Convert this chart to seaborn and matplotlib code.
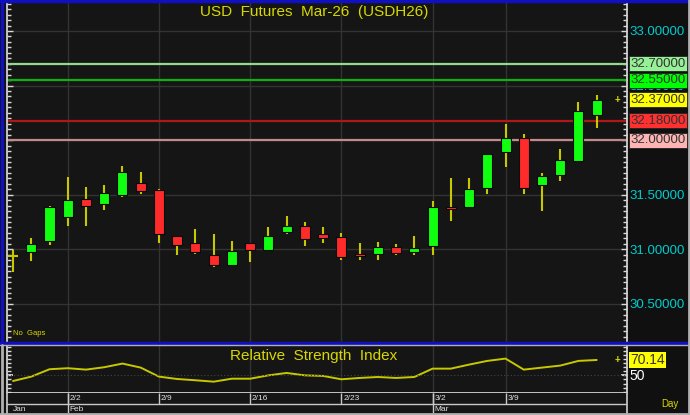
import numpy as np
import pandas as pd
import matplotlib
matplotlib.use("Agg")
import matplotlib.pyplot as plt
from matplotlib.ticker import MultipleLocator, FixedLocator
from matplotlib.lines import Line2D
import seaborn as sns

# daily OHLC, USDH26
opens = [30.94, 30.98, 31.08, 31.30, 31.46, 31.415, 31.50, 31.61, 31.54, 31.12, 31.06,
         30.95, 30.855, 31.055, 30.99, 31.16, 31.21, 31.14, 31.11, 30.96, 30.955, 31.02,
         30.98, 31.03, 31.39, 31.39, 31.56, 31.89, 32.02, 31.59, 31.68, 31.81, 32.235]
highs = [30.99, 31.10, 31.40, 31.66, 31.57, 31.59, 31.76, 31.71, 31.55, 31.12, 31.19,
         31.14, 31.075, 31.055, 31.20, 31.305, 31.25, 31.205, 31.145, 31.055, 31.065, 31.05,
         31.12, 31.44, 31.65, 31.65, 31.87, 32.15, 32.055, 31.695, 31.915, 32.35, 32.415]
lows = [30.79, 30.89, 31.04, 31.21, 31.21, 31.36, 31.48, 31.51, 31.055, 30.95, 30.96,
        30.84, 30.845, 30.885, 30.99, 31.14, 31.03, 31.06, 30.90, 30.90, 30.90, 30.95,
        30.95, 30.95, 31.26, 31.39, 31.51, 31.75, 31.51, 31.355, 31.63, 31.80, 32.11]
closes = [30.94, 31.05, 31.385, 31.455, 31.40, 31.52, 31.705, 31.53, 31.14, 31.04, 30.98,
          30.855, 30.985, 30.99, 31.12, 31.21, 31.095, 31.105, 30.93, 30.94, 31.02, 30.965,
          31.01, 31.39, 31.37, 31.555, 31.87, 32.02, 31.565, 31.67, 31.82, 32.265, 32.37]
rsi = [41.9, 47.8, 57.7, 59.1, 57.2, 60.4, 65.3, 59.9, 47.8, 44.6, 42.9, 41.0, 45.0,
       45.0, 49.5, 52.7, 49.5, 48.7, 44.2, 46.0, 47.3, 46.0, 47.3, 58.5, 58.5, 63.9,
       68.9, 72.0, 57.2, 59.9, 62.6, 68.9, 70.14]

week_labels = ["2/2", "2/9", "2/16", "2/23", "3/2", "3/9"]
week_idx = [3, 8, 13, 18, 23, 27]
month_labels = ["Jan", "Feb", "Mar"]
month_idx = [0, 3, 23]

levels = [32.70, 32.55, 32.18, 32.00]
level_line_colors = ["#8fdc8f", "#10b010", "#b01818", "#c48a8a"]
level_box_colors = ["#96f096", "#00ff00", "#ff3030", "#ffb4b4"]
last_price = 32.37

df = pd.DataFrame({"day": np.arange(len(opens)), "open": opens, "high": highs,
                   "low": lows, "close": closes, "rsi": rsi})

BG = "#151515"
GRID = "#333333"
YEL = "#d8d800"
TICK = "#d8d8d8"

sns.set_theme(style="dark", rc={"axes.facecolor": BG, "figure.facecolor": "#101010",
                                "axes.edgecolor": TICK, "grid.color": GRID})
plt.rcParams["font.family"] = ["Liberation Sans", "DejaVu Sans"]

W, H = 690, 415
fig = plt.figure(figsize=(W / 100, H / 100), dpi=100)


def box(x0, y0, x1, y1):
    return [x0 / W, 1 - y1 / H, (x1 - x0) / W, (y1 - y0) / H]


ax = fig.add_axes(box(7, 3, 627, 342))
ax_rsi = fig.add_axes(box(7, 346, 627, 393), sharex=ax)
ax_dt = fig.add_axes(box(7, 393, 627, 413), sharex=ax)

# ---- candles
up = df["close"] > df["open"]
dn = df["close"] < df["open"]
flat = df["close"] == df["open"]
bw = 0.55
ax.vlines(df["day"], df["low"], df["high"], color="#c8c800", lw=1.5, zorder=3)
ax.bar(df["day"][up], (df["close"] - df["open"])[up], bottom=df["open"][up], width=bw,
       color="#10ff10", edgecolor="#0a0a0a", linewidth=0.8, zorder=4)
ax.bar(df["day"][dn], (df["close"] - df["open"])[dn], bottom=df["open"][dn], width=bw,
       color="#ff2a2a", edgecolor="#0a0a0a", linewidth=0.8, zorder=4)
ax.hlines(df["open"][flat], df["day"][flat] - bw / 2, df["day"][flat] + bw / 2,
          color="#c8c800", lw=1.5, zorder=4)

for lv, lc, bc in zip(levels, level_line_colors, level_box_colors):
    ax.axhline(lv, color=lc, lw=1.6, zorder=2)
    ax.annotate(f"{lv:.5f}", xy=(1, lv), xycoords=("axes fraction", "data"),
                xytext=(2.5, 0), textcoords="offset points", ha="left", va="center",
                fontsize=9.5, color="#333333", annotation_clip=False, zorder=6,
                bbox=dict(boxstyle="square,pad=0.12", fc=bc, ec="#202020", lw=0.6))
ax.annotate(f"{last_price:.5f}", xy=(1, last_price), xycoords=("axes fraction", "data"),
            xytext=(2.5, 0), textcoords="offset points", ha="left", va="center",
            fontsize=9.5, color="#333333", annotation_clip=False, zorder=6,
            bbox=dict(boxstyle="square,pad=0.12", fc="#ffff00", ec="#202020", lw=0.6))
ax.annotate("+", xy=(0.985, last_price), xycoords=("axes fraction", "data"),
            ha="center", va="center", fontsize=7, color=YEL, fontweight="bold")

ax.set_xlim(-0.33, 33.66)
ax.set_ylim(30.151, 33.2565)
ax.yaxis.tick_right()
ax.yaxis.set_major_locator(MultipleLocator(0.5))
ax.yaxis.set_minor_locator(MultipleLocator(0.05))
ax.yaxis.set_major_formatter(matplotlib.ticker.FormatStrFormatter("%.5f"))
ax.xaxis.set_major_locator(FixedLocator(week_idx))
ax.tick_params(axis="y", which="both", left=True, right=True, direction="in",
               colors=TICK, labelcolor="#00cccc", labelsize=9.5, pad=2)
ax.tick_params(axis="y", which="major", length=4, width=1)
ax.tick_params(axis="y", which="minor", length=3, width=1)
ax.tick_params(axis="x", which="both", bottom=False, labelbottom=False)
ax.grid(True, which="major", color=GRID, lw=1)
for s in ["top", "bottom"]:
    ax.spines[s].set_visible(False)
for s in ["left", "right"]:
    ax.spines[s].set_color(TICK)
ax.set_xlabel("")
ax.set_ylabel("")
ax.text(0.495, 0.973, "USD  Futures  Mar-26  (USDH26)", transform=ax.transAxes,
        ha="center", va="center", fontsize=11, color=YEL)
ax.text(0.01, 0.014, "No  Gaps", transform=ax.transAxes, ha="left", va="bottom",
        fontsize=5.5, color=YEL)

# ---- RSI
sns.lineplot(data=df, x="day", y="rsi", ax=ax_rsi, color="#c8c800", lw=1.4)
ax_rsi.axhline(50, color="#444444", lw=0.8, ls=(0, (1, 2)))
ax_rsi.set_ylim(25.8, 88.9)
ax_rsi.yaxis.tick_right()
ax_rsi.yaxis.set_major_locator(FixedLocator([50]))
ax_rsi.yaxis.set_minor_locator(MultipleLocator(5.5))
ax_rsi.tick_params(axis="y", which="both", left=True, right=True, direction="in",
                   colors=TICK, labelcolor="#ffffff", labelsize=10, pad=2)
ax_rsi.tick_params(axis="y", which="major", length=4)
ax_rsi.tick_params(axis="y", which="minor", length=3)
ax_rsi.tick_params(axis="x", which="both", bottom=False, labelbottom=False)
ax_rsi.grid(True, axis="x", color=GRID, lw=1)
ax_rsi.spines["top"].set_visible(False)
for s in ["left", "right", "bottom"]:
    ax_rsi.spines[s].set_color(TICK)
ax_rsi.set_xlabel("")
ax_rsi.set_ylabel("")
ax_rsi.text(0.495, 0.78, "Relative  Strength  Index", transform=ax_rsi.transAxes,
            ha="center", va="center", fontsize=11, color=YEL)
ax_rsi.annotate(f"{rsi[-1]:.2f}", xy=(1, rsi[-1]), xycoords=("axes fraction", "data"),
                xytext=(2.5, 0), textcoords="offset points", ha="left", va="center",
                fontsize=10, color="#333333", annotation_clip=False, zorder=6,
                bbox=dict(boxstyle="square,pad=0.1", fc="#ffff00", ec="none"))
ax_rsi.annotate("+", xy=(0.985, rsi[-1]), xycoords=("axes fraction", "data"),
                ha="center", va="center", fontsize=7, color=YEL, fontweight="bold")

# ---- date strip
ax_dt.set_ylim(0, 1)
ax_dt.axhline(0.45, color="#c8c8c8", lw=1)
ax_dt.vlines(week_idx, 0.45, 1, color="#c8c8c8", lw=1)
ax_dt.vlines(month_idx[1:], 0, 1, color="#c8c8c8", lw=1)
for i, lab in zip(week_idx, week_labels):
    ax_dt.text(i + 0.1, 0.72, lab, ha="left", va="center", fontsize=6, color="#e0e0e0")
for i, lab in zip(month_idx, month_labels):
    ax_dt.text(i + (0.0 if i == 0 else 0.1), 0.2, lab, ha="left", va="center",
               fontsize=6, color="#e0e0e0")
ax_dt.tick_params(axis="both", which="both", left=False, right=False, bottom=False,
                  labelleft=False, labelbottom=False)
for s in ["left", "right"]:
    ax_dt.spines[s].set_color("#c8c8c8")
for s in ["top", "bottom"]:
    ax_dt.spines[s].set_visible(False)
ax_dt.set_facecolor(BG)
fig.text(670 / W, 1 - 404 / H, "Day", ha="center", va="center", fontsize=7, color=YEL)

# ---- window frame
fig.add_artist(Line2D([0, 1], [1 - 1.5 / H, 1 - 1.5 / H], color="#1010c0", lw=2.5))
fig.add_artist(Line2D([0, 1], [1 - 342.5 / H, 1 - 342.5 / H], color="#1010c0", lw=2.5))
fig.add_artist(Line2D([1.5 / W, 1.5 / W], [1 - 342 / H, 1], color="#1010c0", lw=2.5))
fig.add_artist(Line2D([0, 1], [1 - 345 / H, 1 - 345 / H], color="#b0b0b0", lw=1))
fig.add_artist(Line2D([1.5 / W, 1.5 / W], [0, 1 - 345 / H], color="#b0b0b0", lw=2))
fig.add_artist(Line2D([1 - 1 / W, 1 - 1 / W], [0, 1], color="#b0b0b0", lw=2))
fig.add_artist(Line2D([0, 1], [1 / H, 1 / H], color="#b0b0b0", lw=2))

fig.savefig("out.png", dpi=100, facecolor=fig.get_facecolor())
